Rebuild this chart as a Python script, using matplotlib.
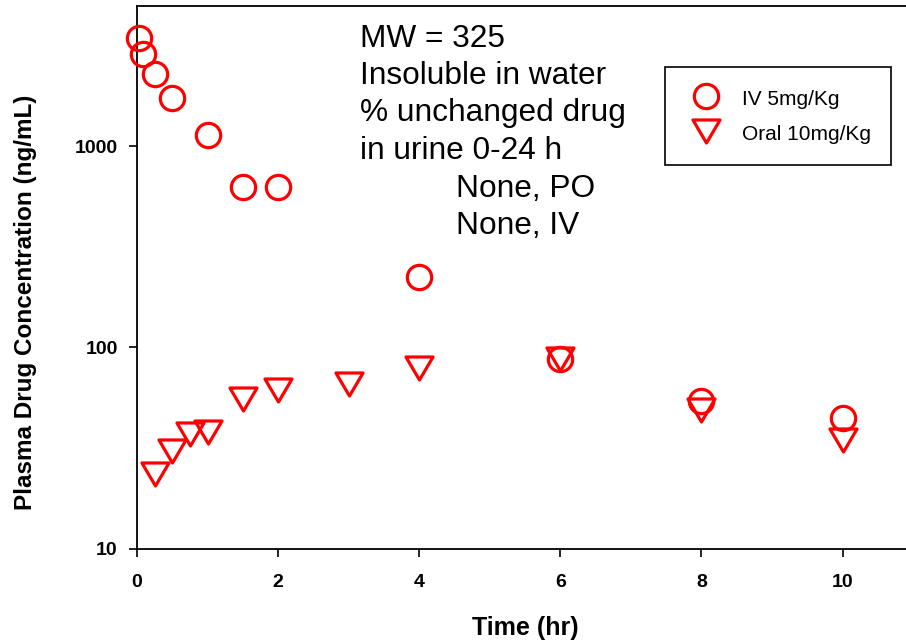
import matplotlib
matplotlib.use("Agg")
import matplotlib.pyplot as plt
from matplotlib.path import Path
from matplotlib.markers import MarkerStyle
from matplotlib.ticker import NullLocator

plt.rcParams['font.family'] = ['Liberation Sans', 'DejaVu Sans']

# ---- data ----
iv_time = [0.033, 0.083, 0.25, 0.5, 1.0, 1.5, 2.0, 4.0, 6.0, 8.0, 10.0]
iv_conc = [3475, 2870, 2300, 1745, 1140, 632, 630, 223, 88, 54, 44.7]
oral_time = [0.25, 0.5, 0.75, 1.0, 1.5, 2.0, 3.0, 4.0, 6.0, 8.0, 10.0]
oral_conc = [23.4, 30.4, 37.2, 37.9, 55.2, 61.5, 65.5, 78.7, 87.8, 48.7, 34.7]
x_ticks = [0, 2, 4, 6, 8, 10]
y_ticks = [10, 100, 1000]
y_tick_labels = ["10", "100", "1000"]
series_labels = ["IV 5mg/Kg", "Oral 10mg/Kg"]
notes = ["MW = 325", "Insoluble in water", "% unchanged drug",
         "in urine 0-24 h", "None, PO", "None, IV"]

W, H = 906, 643
fig = plt.figure(figsize=(W / 100, H / 100), dpi=100)

# axes geometry in pixels
x0_px, ybot_px, ytop_px = 137, 548.5, 6
px_per_unit = 70.55
xmax = 11
ax = fig.add_axes([x0_px / W, (H - ybot_px) / H,
                   xmax * px_per_unit / W, (ybot_px - ytop_px) / H])

red = (1, 0, 0)
tri_path = Path([(-1, 0.85), (1, 0.85), (0, -0.85), (-1, 0.85)], closed=True)
tri = MarkerStyle(tri_path, joinstyle='miter')
circ = MarkerStyle('o')

ax.plot(iv_time, iv_conc, linestyle='none', marker=circ, ms=17.5,
        mfc='none', mec=red, mew=2.3, clip_on=False, label=series_labels[0],
        zorder=3)
ax.plot(oral_time, oral_conc, linestyle='none', marker=tri, ms=19.5,
        mfc='none', mec=red, mew=2.3, clip_on=False, label=series_labels[1],
        zorder=3)

ax.set_yscale('log')
ax.set_xlim(0, xmax)
ax.set_ylim(10, 5000)
ax.set_xticks(x_ticks)
ax.set_xticklabels([str(t) for t in x_ticks])
ax.set_yticks(y_ticks)
ax.set_yticklabels(y_tick_labels)
ax.yaxis.set_minor_locator(NullLocator())
ax.xaxis.set_minor_locator(NullLocator())

for lbl in ax.get_xticklabels() + ax.get_yticklabels():
    lbl.set_fontweight('bold')
    lbl.set_fontsize(14)
ax.tick_params(axis='both', direction='out', length=5.5, width=1.2,
               color='black')
ax.tick_params(axis='x', pad=13)
ax.tick_params(axis='y', pad=8.4)

ax.spines['right'].set_visible(False)
for s in ['left', 'bottom', 'top']:
    ax.spines[s].set_linewidth(1.3)

# axis labels
fig.text(525 / W, 1 - 628 / H, "Time (hr)", ha='center', va='center',
         fontsize=18, fontweight='bold')
fig.text(26 / W, 1 - 302.5 / H, "Plasma Drug Concentration (ng/mL)",
         ha='center', va='center', rotation=90, fontsize=17.5,
         fontweight='bold')

# annotation text
note_pos = [(360, 46.7), (360, 84), (360, 121), (360, 159),
            (456, 196.7), (456, 234)]
for txt, (px, py) in zip(notes, note_pos):
    fig.text(px / W, 1 - py / H, txt, ha='left', va='baseline', fontsize=22.8)

leg = ax.legend(loc='upper left', bbox_to_anchor=(665 / W, 1 - 66.7 / H),
                bbox_transform=fig.transFigure, fontsize=15, frameon=True,
                fancybox=False, framealpha=1, edgecolor='black',
                borderpad=0.95, labelspacing=0.62, handlelength=2.0,
                handleheight=1.3, handletextpad=0.77, numpoints=1,
                borderaxespad=0)
leg.get_frame().set_linewidth(1.2)

fig.savefig("out.png", dpi=100)
